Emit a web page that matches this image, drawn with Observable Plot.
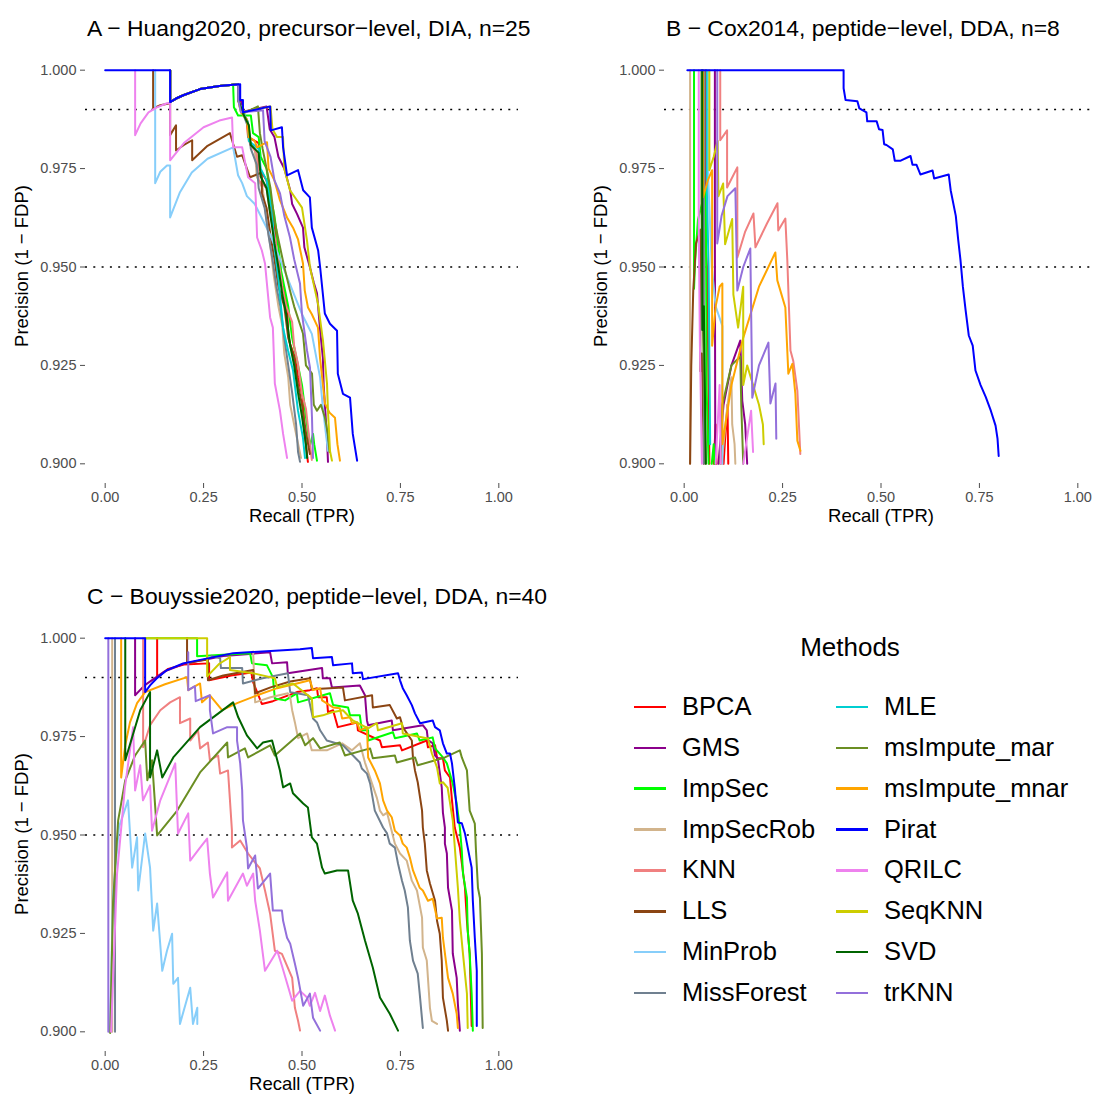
<!DOCTYPE html>
<html><head><meta charset="utf-8">
<script src="https://cdn.jsdelivr.net/npm/d3@7"></script>
<script src="https://cdn.jsdelivr.net/npm/@observablehq/plot@0.6"></script>
<style>
body{margin:0;background:#fff;font-family:"Liberation Sans",Arial,Helvetica,sans-serif}
#wrap{position:relative;width:1094px;height:1094px;overflow:hidden;background:#fff}
.abs{position:absolute;white-space:nowrap;line-height:1}
.ttl{font-size:22.9px;color:#000;transform:translateY(-50%)}
.xt{font-size:18.5px;color:#000;transform:translate(-50%,-50%)}
.yt{font-size:18.5px;color:#000;transform:translate(-50%,-50%) rotate(-90deg)}
.lg{font-size:25.5px;color:#000;transform:translateY(-50%)}
.key{position:absolute;height:2.5px;width:32px}
</style></head>
<body><div id="wrap"></div>
<script>
const methods = ["BPCA","GMS","ImpSec","ImpSecRob","KNN","LLS","MinProb","MissForest","MLE","msImpute_mar","msImpute_mnar","Pirat","QRILC","SeqKNN","SVD","trKNN"];
const colors = ["#FF0000","#8B008B","#00FF00","#D2B48C","#F08080","#8B4513","#87CEFA","#708090","#00CED1","#6B8E23","#FFA500","#0000FF","#EE82EE","#CDCD00","#006400","#9370DB"];
const xTicks = [0, 0.25, 0.5, 0.75, 1];
const yTicks = [0.9, 0.925, 0.95, 0.975, 1.0];
const refLines = [0.99, 0.95];
const titles = ["A \u2212 Huang2020, precursor\u2212level, DIA, n=25", "B \u2212 Cox2014, peptide\u2212level, DDA, n=8", "C \u2212 Bouyssie2020, peptide\u2212level, DDA, n=40"];
const xTitle = "Recall (TPR)";
const yTitle = "Precision (1 \u2212 FDP)";

// ---------- Panel A (recall, precision) ----------
const A_top = [[0.165,1.0],[0.165,0.9919],[0.18,0.9928],[0.2,0.9937],[0.241,0.9952],[0.29,0.996],[0.325,0.9963]];
const A_Pirat = [[0,1.0],[0.343,0.9964],[0.343,0.9924],[0.350,0.9924],[0.350,0.9893],[0.419,0.9908],[0.421,0.9847],[0.449,0.9855],[0.452,0.9804],[0.462,0.9733],[0.490,0.9746],[0.503,0.9695],[0.520,0.9677],[0.525,0.960],[0.541,0.9542],[0.546,0.950],[0.558,0.9382],[0.571,0.9356],[0.589,0.9338],[0.591,0.9229],[0.604,0.9178],[0.622,0.9168],[0.629,0.9076],[0.640,0.9008]];
const A_BPCA = [[0.338,0.9964],[0.338,0.9924],[0.348,0.9915],[0.35,0.989],[0.36,0.9872],[0.363,0.983],[0.39,0.9815],[0.392,0.975],[0.41,0.972],[0.42,0.966],[0.4315,0.9593],[0.435,0.953],[0.439,0.9499],[0.45,0.946],[0.462,0.9397],[0.465,0.933],[0.4695,0.9305],[0.482,0.927],[0.49,0.922],[0.5025,0.9168],[0.505,0.909],[0.515,0.9005]];
const A_GMS = [[0.338,0.9964],[0.338,0.9924],[0.345,0.9921],[0.345,0.9893],[0.41,0.9908],[0.418,0.985],[0.43,0.983],[0.44,0.978],[0.455,0.975],[0.47,0.9695],[0.475,0.966],[0.4873,0.9635],[0.5025,0.96],[0.506,0.955],[0.5203,0.9499],[0.53,0.946],[0.5381,0.9433],[0.546,0.934],[0.553,0.927],[0.555,0.92],[0.5635,0.9066],[0.566,0.9005]];
const A_ImpSec = [[0.327,0.9906],[0.3376,0.9885],[0.37,0.9885],[0.3756,0.984],[0.39,0.983],[0.395,0.978],[0.41,0.975],[0.42,0.968],[0.43,0.963],[0.44,0.955],[0.447,0.949],[0.455,0.945],[0.465,0.94],[0.475,0.932],[0.49,0.925],[0.5,0.92],[0.51,0.912],[0.52,0.9045],[0.528,0.9076],[0.531,0.905],[0.538,0.9008]];
const A_ImpSecRob = [[0.338,0.9964],[0.338,0.9924],[0.35,0.9893],[0.362,0.987],[0.365,0.982],[0.38,0.980],[0.385,0.973],[0.40,0.97],[0.41,0.962],[0.42,0.955],[0.428,0.948],[0.44,0.94],[0.45,0.935],[0.455,0.928],[0.465,0.922],[0.47,0.915],[0.48,0.91],[0.4975,0.9015]];
const A_KNN = [[0.338,0.9964],[0.338,0.9924],[0.35,0.9893],[0.365,0.986],[0.368,0.981],[0.385,0.979],[0.39,0.972],[0.41,0.97],[0.42,0.963],[0.43,0.958],[0.44,0.952],[0.45,0.945],[0.46,0.94],[0.475,0.936],[0.48,0.93],[0.4898,0.9254],[0.5,0.9178],[0.51,0.914],[0.52,0.905],[0.525,0.901]];
const A_LLS = [[0.1218,1.0],[0.1218,0.9903],[0.14,0.9911],[0.165,0.9916],[0.165,0.9835],[0.18,0.986],[0.18,0.9796],[0.2,0.981],[0.221,0.9822],[0.221,0.9771],[0.26,0.9808],[0.317,0.984],[0.335,0.978],[0.348,0.9784],[0.36,0.975],[0.368,0.9728],[0.398,0.974],[0.398,0.9687],[0.41,0.965],[0.42,0.958],[0.43,0.952],[0.44,0.945],[0.455,0.94],[0.465,0.932],[0.48,0.927],[0.49,0.92],[0.5,0.915],[0.51,0.908],[0.52,0.9025]];
const A_MinProb = [[0.127,1.0],[0.127,0.9713],[0.14,0.9742],[0.157,0.9758],[0.165,0.9758],[0.165,0.9626],[0.19,0.969],[0.22,0.974],[0.26,0.9775],[0.325,0.9804],[0.3376,0.9733],[0.348,0.9713],[0.36,0.968],[0.38,0.966],[0.40,0.962],[0.42,0.958],[0.44,0.953],[0.46,0.948],[0.48,0.943],[0.5,0.938],[0.515,0.935],[0.525,0.933],[0.546,0.9219],[0.553,0.9142],[0.566,0.9033]];
const A_MissForest = [[0.338,0.9964],[0.338,0.9924],[0.35,0.989],[0.365,0.985],[0.37,0.98],[0.385,0.976],[0.39,0.97],[0.405,0.965],[0.415,0.958],[0.425,0.952],[0.435,0.945],[0.445,0.94],[0.455,0.932],[0.465,0.925],[0.475,0.918],[0.485,0.91],[0.49,0.903],[0.495,0.9005]];
const A_MLE = [[0.338,0.9964],[0.338,0.9924],[0.35,0.9893],[0.362,0.987],[0.365,0.982],[0.39,0.98],[0.395,0.975],[0.41,0.972],[0.42,0.966],[0.4239,0.9644],[0.43,0.955],[0.44,0.947],[0.4518,0.9346],[0.4645,0.9288],[0.4772,0.9237],[0.4898,0.9135],[0.5025,0.9066],[0.5076,0.9015]];
const A_msImpute_mar = [[0.338,0.9964],[0.338,0.9924],[0.35,0.989],[0.388,0.9908],[0.393,0.984],[0.40,0.98],[0.41,0.975],[0.42,0.97],[0.43,0.962],[0.44,0.957],[0.455,0.95],[0.4695,0.944],[0.48,0.94],[0.5025,0.9331],[0.51,0.925],[0.5254,0.9229],[0.53,0.915],[0.5381,0.9135],[0.548,0.915],[0.5584,0.9117],[0.565,0.908],[0.57,0.903]];
const A_msImpute_mnar = [[0.338,0.9964],[0.338,0.9924],[0.345,0.9893],[0.36,0.9875],[0.365,0.983],[0.38,0.982],[0.3858,0.9804],[0.4112,0.9817],[0.415,0.975],[0.43,0.972],[0.4442,0.9669],[0.4619,0.9626],[0.4772,0.96],[0.49,0.957],[0.5025,0.9509],[0.507,0.944],[0.5152,0.9397],[0.525,0.938],[0.5406,0.9346],[0.5457,0.927],[0.5584,0.9153],[0.57,0.913],[0.5838,0.9117],[0.59,0.905],[0.5964,0.9008]];
const A_QRILC = [[0.0761,1.0],[0.0761,0.9835],[0.09,0.9865],[0.11,0.9893],[0.13,0.9905],[0.157,0.9916],[0.165,0.9916],[0.165,0.9771],[0.2,0.9815],[0.25,0.9855],[0.29,0.9872],[0.3223,0.988],[0.325,0.9804],[0.348,0.9804],[0.363,0.9728],[0.381,0.9713],[0.386,0.9575],[0.398,0.9542],[0.406,0.9509],[0.419,0.9372],[0.426,0.9346],[0.431,0.9204],[0.444,0.9135],[0.452,0.9076],[0.462,0.9015]];
const A_SeqKNN = [[0.338,0.9964],[0.338,0.9924],[0.345,0.9893],[0.42,0.9908],[0.425,0.985],[0.4365,0.983],[0.4518,0.983],[0.455,0.975],[0.4695,0.9695],[0.5,0.9651],[0.5127,0.9567],[0.5203,0.9499],[0.5406,0.9407],[0.5533,0.9313],[0.5635,0.9204],[0.566,0.9135],[0.5711,0.9033],[0.5761,0.9008]];
const A_SVD = [[0.338,0.9964],[0.338,0.9924],[0.35,0.989],[0.365,0.986],[0.37,0.981],[0.39,0.979],[0.395,0.973],[0.41,0.97],[0.42,0.963],[0.43,0.956],[0.44,0.95],[0.45,0.943],[0.46,0.938],[0.47,0.93],[0.48,0.925],[0.49,0.918],[0.5,0.912],[0.51,0.905],[0.513,0.9015]];
const A_trKNN = [[0.338,0.9964],[0.338,0.9924],[0.345,0.9893],[0.401,0.9898],[0.405,0.982],[0.42,0.978],[0.43,0.972],[0.4442,0.9687],[0.455,0.963],[0.4695,0.9575],[0.48,0.952],[0.4949,0.9458],[0.5,0.938],[0.5127,0.9288],[0.5203,0.9244],[0.5254,0.9117],[0.5279,0.9015]];

// ---------- Panel B ----------
const B_Pirat = [[0.008,1.0],[0.405,1.0],[0.405,0.9954],[0.41,0.9924],[0.44,0.9921],[0.445,0.9903],[0.463,0.9893],[0.465,0.987],[0.489,0.987],[0.495,0.985],[0.504,0.9848],[0.508,0.9812],[0.514,0.981],[0.53,0.9799],[0.535,0.977],[0.55,0.977],[0.575,0.9782],[0.58,0.976],[0.59,0.976],[0.6,0.9735],[0.631,0.9745],[0.635,0.9725],[0.672,0.9735],[0.677,0.9695],[0.69,0.963],[0.696,0.957],[0.702,0.9517],[0.708,0.945],[0.715,0.939],[0.723,0.9326],[0.733,0.930],[0.74,0.9237],[0.753,0.92],[0.766,0.917],[0.779,0.9135],[0.791,0.9097],[0.796,0.9064],[0.799,0.902]];
const B_BPCA = [[0.055,1.0],[0.055,0.955],[0.058,0.95],[0.062,0.92],[0.064,0.9],null,[0.075,0.9],[0.08,0.91],[0.082,0.9],null,[0.1,0.9],[0.105,0.908],[0.11,0.915],[0.112,0.9]];
const B_GMS = [[0.078,1.0],[0.078,0.957],[0.079,0.9],null,[0.087,0.9],[0.1,0.915],[0.12,0.925],[0.1425,0.9313],[0.1476,0.916],[0.155,0.91],[0.16,0.9]];
const B_ImpSec = [[0.025,1.0],[0.025,0.9445],[0.028,0.952],[0.035,0.962],[0.055,0.97],[0.057,0.919],[0.062,0.9],null,[0.07,0.9],[0.075,0.905],[0.077,0.9]];
const B_ImpSecRob = [[0.015,1.0],[0.015,0.9],null,[0.095,0.9],[0.11,0.915],[0.12,0.922],[0.122,0.91],[0.128,0.905],[0.13,0.9]];
const B_KNN = [[0.0916,1.0],[0.0916,0.9822],[0.109,0.9847],[0.109,0.9702],[0.135,0.9753],[0.135,0.9524],[0.155,0.959],[0.176,0.9636],[0.181,0.955],[0.21,0.961],[0.237,0.9662],[0.239,0.9593],[0.257,0.9623],[0.262,0.9517],[0.27,0.9288],[0.277,0.9262],[0.2875,0.9186],[0.295,0.9025]];
const B_LLS = [[0.015,0.9],[0.018,0.925],[0.023,0.944],[0.03,0.956],[0.041,0.9595],[0.041,0.9235],[0.045,0.928],[0.05,0.9]];
const B_MinProb = [[0.061,1.0],[0.061,0.973],[0.07,0.95],[0.08,0.94],[0.097,0.935],[0.097,0.9]];
const B_MissForest = [[0.05,1.0],[0.05,0.9]];
const B_MLE = [[0.057,1.0],[0.057,0.972],[0.062,0.95],[0.066,0.905]];
const B_msImpute_mar = [[0.044,1.0],[0.044,0.967],[0.046,0.94],[0.05,0.925],[0.055,0.9],null,[0.092,0.9],[0.097,0.915],[0.12,0.925],[0.1425,0.9273],[0.145,0.915],[0.15,0.9]];
const B_msImpute_mnar = [[0.048,1.0],[0.048,0.9677],[0.06,0.972],[0.071,0.9746],[0.071,0.93],[0.08,0.94],[0.09,0.945],[0.097,0.9458],[0.097,0.905],[0.12,0.92],[0.15,0.932],[0.19,0.945],[0.2316,0.9537],[0.2366,0.9466],[0.257,0.9397],[0.2646,0.9229],[0.2748,0.9254],[0.2824,0.9178],[0.2875,0.9059],[0.2952,0.9033]];
const B_QRILC = [[0.037,1.0],[0.037,0.96],[0.04,0.93],[0.045,0.9],null,[0.08,0.9],[0.09,0.92],[0.093,0.9],null,[0.15,0.9],[0.17,0.9135],[0.175,0.903]];
const B_SeqKNN = [[0.064,1.0],[0.064,0.9746],[0.075,0.978],[0.085,0.982],[0.087,0.968],[0.099,0.9712],[0.104,0.9558],[0.122,0.9622],[0.125,0.943],[0.137,0.9346],[0.15,0.945],[0.15,0.92],[0.16,0.925],[0.19,0.915],[0.2,0.91],[0.202,0.905]];
const B_SVD = [[0.046,1.0],[0.046,0.934],[0.05,0.94],[0.055,0.9]];
const B_trKNN = [[0.084,1.0],[0.084,0.956],[0.095,0.963],[0.11,0.968],[0.13,0.97],[0.135,0.944],[0.15,0.95],[0.168,0.9547],[0.173,0.9168],[0.19,0.925],[0.214,0.9308],[0.219,0.9153],[0.232,0.9204],[0.234,0.9064]];

// ---------- Panel C ----------
const C_Pirat = [[0,1.0],[0.1015,1.0],[0.1015,0.9863],[0.114,0.988],[0.13,0.9897],[0.157,0.9919],[0.198,0.9936],[0.325,0.9962],[0.495,0.9972],[0.525,0.9975],[0.528,0.9949],[0.576,0.9952],[0.579,0.9931],[0.627,0.9936],[0.629,0.9911],[0.652,0.9913],[0.655,0.9896],[0.744,0.9911],[0.749,0.9893],[0.756,0.9873],[0.766,0.9855],[0.779,0.983],[0.787,0.9809],[0.800,0.9784],[0.832,0.9791],[0.838,0.9774],[0.850,0.9766],[0.858,0.9733],[0.868,0.9707],[0.876,0.9707],[0.881,0.9682],[0.888,0.9621],[0.896,0.9532],[0.906,0.953],[0.914,0.9504],[0.921,0.9468],[0.931,0.9417],[0.934,0.9333],[0.939,0.9239],[0.944,0.9155],[0.944,0.9015]];
const C_BPCA = [[0.132,1.0],[0.132,0.990],[0.16,0.9922],[0.2,0.9933],[0.264,0.9936],[0.264,0.9893],[0.32,0.9905],[0.371,0.9913],[0.376,0.9888],[0.398,0.9833],[0.426,0.984],[0.487,0.9863],[0.520,0.9868],[0.538,0.9873],[0.541,0.985],[0.563,0.985],[0.566,0.9812],[0.579,0.9817],[0.591,0.9774],[0.640,0.9786],[0.642,0.9766],[0.698,0.974],[0.703,0.9723],[0.749,0.9728],[0.754,0.9715],[0.817,0.974],[0.820,0.9723],[0.838,0.9728],[0.843,0.9695],[0.858,0.9695],[0.863,0.9664],[0.876,0.9646],[0.881,0.9588],[0.888,0.9519],[0.901,0.9468],[0.914,0.9366],[0.919,0.9282],[0.926,0.9198],[0.931,0.9015]];
const C_GMS = [[0.076,1.0],[0.076,0.9855],[0.1,0.988],[0.15,0.9915],[0.2,0.9935],[0.3,0.9955],[0.419,0.9964],[0.424,0.9936],[0.462,0.9939],[0.464,0.9911],[0.551,0.9924],[0.553,0.9898],[0.571,0.9898],[0.576,0.9875],[0.647,0.988],[0.660,0.9855],[0.665,0.9791],[0.668,0.9779],[0.728,0.9791],[0.731,0.9766],[0.807,0.9779],[0.817,0.9766],[0.820,0.9741],[0.832,0.9733],[0.838,0.9702],[0.845,0.9695],[0.855,0.9621],[0.858,0.9557],[0.863,0.9519],[0.863,0.9478],[0.868,0.9453],[0.871,0.9366],[0.881,0.9308],[0.883,0.9199],[0.893,0.9137],[0.896,0.9071],[0.901,0.9003]];
const C_ImpSec = [[0.1015,1.0],[0.2335,1.0],[0.2335,0.9954],[0.3,0.9958],[0.368,0.9962],[0.373,0.9936],[0.411,0.9931],[0.426,0.9901],[0.431,0.9847],[0.457,0.9842],[0.487,0.986],[0.490,0.9837],[0.571,0.986],[0.579,0.983],[0.617,0.9824],[0.622,0.9804],[0.647,0.9804],[0.652,0.9766],[0.668,0.9766],[0.668,0.974],[0.731,0.9761],[0.736,0.9746],[0.792,0.9758],[0.799,0.974],[0.832,0.9748],[0.838,0.972],[0.858,0.9697],[0.868,0.9682],[0.883,0.9631],[0.893,0.958],[0.901,0.9519],[0.906,0.946],[0.909,0.9402],[0.919,0.9341],[0.921,0.9257],[0.926,0.9198],[0.931,0.9097],[0.934,0.9003]];
const C_ImpSecRob = [[0.0178,1.0],[0.0178,0.9],null,[0.376,0.9966],[0.376,0.9962],[0.381,0.9837],[0.42,0.985],[0.464,0.986],[0.470,0.985],[0.475,0.9817],[0.482,0.9786],[0.490,0.9746],[0.513,0.9758],[0.525,0.9715],[0.563,0.9715],[0.602,0.9733],[0.627,0.9715],[0.647,0.9733],[0.660,0.9684],[0.690,0.9595],[0.698,0.9562],[0.706,0.955],[0.716,0.9557],[0.736,0.9478],[0.749,0.9453],[0.766,0.9435],[0.779,0.9384],[0.792,0.9359],[0.805,0.929],[0.807,0.9214],[0.817,0.9181],[0.825,0.9061],[0.830,0.9028],[0.843,0.902]];
const C_KNN = [[0.0964,1.0],[0.0964,0.9723],[0.114,0.9779],[0.140,0.9817],[0.165,0.9837],[0.190,0.985],[0.190,0.9784],[0.216,0.9796],[0.216,0.974],[0.236,0.9766],[0.241,0.972],[0.261,0.9735],[0.266,0.969],[0.287,0.9702],[0.292,0.9656],[0.312,0.9664],[0.317,0.9588],[0.322,0.9511],[0.322,0.9468],[0.343,0.9486],[0.363,0.9453],[0.381,0.943],[0.393,0.9415],[0.406,0.9359],[0.419,0.93],[0.431,0.9206],[0.449,0.9198],[0.475,0.9137],[0.482,0.9061],[0.490,0.9028],[0.495,0.9003]];
const C_LLS = [[0.208,1.0],[0.208,0.9936],[0.235,0.9942],[0.261,0.9946],[0.261,0.9893],[0.3,0.9905],[0.376,0.9919],[0.381,0.986],[0.42,0.9875],[0.47,0.989],[0.52,0.9898],[0.525,0.987],[0.604,0.9875],[0.609,0.9842],[0.678,0.9855],[0.680,0.9824],[0.723,0.983],[0.741,0.9796],[0.749,0.9799],[0.756,0.9774],[0.779,0.974],[0.782,0.9695],[0.787,0.9664],[0.794,0.9634],[0.805,0.9562],[0.807,0.9519],[0.812,0.9478],[0.817,0.941],[0.825,0.9377],[0.838,0.9333],[0.843,0.9282],[0.850,0.9249],[0.855,0.9181],[0.858,0.9087],[0.868,0.9028],[0.871,0.9003]];
const C_MinProb = [[0.012,0.9],[0.02,0.935],[0.035,0.952],[0.058,0.9588],[0.0685,0.9417],[0.081,0.9494],[0.084,0.9359],[0.1015,0.9504],[0.114,0.9417],[0.122,0.9257],[0.132,0.9326],[0.145,0.9155],[0.157,0.9206],[0.170,0.9249],[0.173,0.9122],[0.185,0.9137],[0.190,0.902],[0.216,0.9112],[0.223,0.902],[0.234,0.9061],[0.234,0.902]];
const C_MissForest = [[0.025,1.0],[0.025,0.9],null,[0.27,0.9955],[0.292,0.9949],[0.294,0.9924],[0.348,0.9924],[0.350,0.9885],[0.4,0.9898],[0.464,0.9911],[0.470,0.9863],[0.515,0.9855],[0.528,0.9796],[0.538,0.9786],[0.546,0.9766],[0.563,0.974],[0.604,0.9728],[0.647,0.9684],[0.652,0.9669],[0.665,0.9656],[0.673,0.9631],[0.685,0.9562],[0.706,0.9519],[0.716,0.9504],[0.723,0.9478],[0.736,0.9468],[0.744,0.9427],[0.754,0.9384],[0.761,0.9359],[0.769,0.9316],[0.774,0.9232],[0.782,0.9181],[0.794,0.9148],[0.799,0.9097],[0.807,0.901]];
const C_msImpute_mar = [[0.0127,0.8997],[0.020,0.933],[0.033,0.9537],[0.051,0.9639],[0.076,0.9702],[0.1015,0.974],[0.107,0.9639],[0.119,0.969],[0.132,0.9499],[0.183,0.9562],[0.241,0.9659],[0.310,0.9735],[0.312,0.9697],[0.355,0.972],[0.363,0.9697],[0.419,0.9728],[0.431,0.9702],[0.495,0.9758],[0.508,0.9728],[0.528,0.9746],[0.546,0.972],[0.596,0.9735],[0.609,0.9702],[0.673,0.972],[0.680,0.9695],[0.736,0.9702],[0.741,0.9684],[0.787,0.9697],[0.794,0.9677],[0.863,0.9697],[0.901,0.9715],[0.906,0.9697],[0.919,0.9664],[0.926,0.9562],[0.939,0.9529],[0.942,0.946],[0.947,0.9366],[0.952,0.934],[0.957,0.9198],[0.959,0.901]];
const C_msImpute_mnar = [[0.0406,1.0],[0.0406,0.9646],[0.051,0.9728],[0.063,0.9786],[0.081,0.9835],[0.1015,0.9863],[0.152,0.9883],[0.208,0.9901],[0.211,0.9868],[0.241,0.9885],[0.246,0.9837],[0.266,0.9855],[0.297,0.9817],[0.335,0.9835],[0.386,0.9855],[0.437,0.9873],[0.487,0.9885],[0.520,0.9893],[0.528,0.9868],[0.546,0.9873],[0.551,0.9842],[0.579,0.9824],[0.596,0.9822],[0.602,0.9796],[0.622,0.9799],[0.627,0.9784],[0.640,0.9786],[0.647,0.9766],[0.665,0.9774],[0.668,0.9697],[0.685,0.9664],[0.698,0.9631],[0.706,0.9588],[0.716,0.9562],[0.728,0.9545],[0.736,0.9511],[0.749,0.9499],[0.756,0.9478],[0.766,0.9468],[0.774,0.9443],[0.782,0.941],[0.799,0.9366],[0.807,0.9359],[0.820,0.9333],[0.832,0.9338],[0.843,0.9288],[0.855,0.929],[0.858,0.9239],[0.871,0.9137],[0.883,0.9097],[0.893,0.9046],[0.896,0.901]];
const C_QRILC = [[0.015,0.9],[0.03,0.94],[0.05,0.962],[0.071,0.9774],[0.076,0.9613],[0.089,0.9677],[0.096,0.9588],[0.114,0.9626],[0.119,0.9511],[0.140,0.9588],[0.178,0.9682],[0.185,0.9504],[0.211,0.9555],[0.216,0.9435],[0.241,0.9468],[0.259,0.9491],[0.266,0.9402],[0.274,0.9341],[0.310,0.9405],[0.312,0.9333],[0.350,0.9402],[0.360,0.9371],[0.376,0.9402],[0.381,0.9333],[0.393,0.9257],[0.406,0.9155],[0.437,0.9206],[0.449,0.9168],[0.464,0.9117],[0.475,0.9079],[0.495,0.9104],[0.513,0.9087],[0.520,0.9066],[0.533,0.9099],[0.546,0.9053],[0.558,0.9092],[0.571,0.9041],[0.584,0.9003]];
const C_SeqKNN = [[0.1015,1.0],[0.259,1.0],[0.259,0.9903],[0.29,0.9935],[0.317,0.9952],[0.317,0.9919],[0.38,0.991],[0.431,0.9898],[0.437,0.9875],[0.477,0.9885],[0.525,0.9847],[0.528,0.9799],[0.553,0.9804],[0.576,0.9812],[0.604,0.9817],[0.629,0.9791],[0.668,0.9771],[0.690,0.9784],[0.693,0.9766],[0.754,0.9784],[0.756,0.9758],[0.82,0.9745],[0.830,0.9707],[0.843,0.9672],[0.850,0.9631],[0.858,0.9634],[0.87,0.962],[0.883,0.9537],[0.896,0.9366],[0.901,0.9282],[0.909,0.9198],[0.919,0.9097],[0.921,0.901]];
const C_SVD = [[0.051,1.0],[0.051,0.969],[0.089,0.9817],[0.114,0.9863],[0.114,0.9646],[0.132,0.9715],[0.145,0.9646],[0.173,0.9697],[0.241,0.9774],[0.325,0.9837],[0.338,0.9799],[0.360,0.9753],[0.386,0.972],[0.401,0.9735],[0.424,0.974],[0.444,0.9664],[0.452,0.9621],[0.470,0.9631],[0.477,0.9606],[0.503,0.958],[0.515,0.957],[0.525,0.9494],[0.538,0.9478],[0.551,0.9417],[0.558,0.9402],[0.589,0.941],[0.617,0.941],[0.629,0.9333],[0.642,0.93],[0.660,0.9232],[0.680,0.9163],[0.698,0.9087],[0.723,0.9046],[0.744,0.9003]];
const C_trKNN = [[0.008,1.0],[0.008,0.9],null,[0.211,0.9964],[0.211,0.9868],[0.228,0.9878],[0.23,0.984],[0.266,0.9855],[0.266,0.9817],[0.274,0.9758],[0.310,0.9774],[0.335,0.9774],[0.335,0.974],[0.343,0.9682],[0.348,0.9613],[0.350,0.9537],[0.360,0.9468],[0.363,0.9415],[0.381,0.9448],[0.388,0.9364],[0.419,0.9402],[0.426,0.9308],[0.449,0.9308],[0.452,0.9282],[0.462,0.9239],[0.470,0.9224],[0.482,0.9173],[0.490,0.9137],[0.503,0.9066],[0.520,0.9097],[0.528,0.9036],[0.546,0.9003]];

const panelA = {BPCA:[...A_top,...A_BPCA], GMS:[...A_top,...A_GMS], ImpSec:[...A_top,...A_ImpSec], ImpSecRob:[...A_top,...A_ImpSecRob], KNN:[...A_top,...A_KNN], LLS:A_LLS, MinProb:A_MinProb, MissForest:[...A_top,...A_MissForest], MLE:[...A_top,...A_MLE], msImpute_mar:[...A_top,...A_msImpute_mar], msImpute_mnar:[...A_top,...A_msImpute_mnar], Pirat:[A_Pirat[0],...A_top,...A_Pirat.slice(1)], QRILC:A_QRILC, SeqKNN:[...A_top,...A_SeqKNN], SVD:[...A_top,...A_SVD], trKNN:[...A_top,...A_trKNN]};
const panelB = {BPCA:B_BPCA, GMS:B_GMS, ImpSec:B_ImpSec, ImpSecRob:B_ImpSecRob, KNN:B_KNN, LLS:B_LLS, MinProb:B_MinProb, MissForest:B_MissForest, MLE:B_MLE, msImpute_mar:B_msImpute_mar, msImpute_mnar:B_msImpute_mnar, Pirat:B_Pirat, QRILC:B_QRILC, SeqKNN:B_SeqKNN, SVD:B_SVD, trKNN:B_trKNN};
const panelC = {BPCA:C_BPCA, GMS:C_GMS, ImpSec:C_ImpSec, ImpSecRob:C_ImpSecRob, KNN:C_KNN, LLS:C_LLS, MinProb:C_MinProb, MissForest:C_MissForest, msImpute_mar:C_msImpute_mar, msImpute_mnar:C_msImpute_mnar, Pirat:C_Pirat, QRILC:C_QRILC, SeqKNN:C_SeqKNN, SVD:C_SVD, trKNN:C_trKNN};

const drawOrder = methods.filter(m => m !== "Pirat").concat(["Pirat"]);
const wrap = document.getElementById("wrap");

function addText(cls, txt, left, top) {
  const d = document.createElement("div");
  d.className = "abs " + cls;
  d.textContent = txt;
  d.style.left = left + "px";
  d.style.top = top + "px";
  wrap.appendChild(d);
  return d;
}

function panel(series, left, top, title) {
  const rows = [];
  for (const m of drawOrder) {
    const pts = series[m];
    if (!pts) continue;
    for (const p of pts) rows.push({method: m, r: p ? p[0] : NaN, p: p ? p[1] : NaN});
  }
  const chart = Plot.plot({
    width: 540, height: 493,
    marginLeft: 85, marginRight: 22, marginTop: 10, marginBottom: 50,
    x: {domain: [-0.05, 1.05], ticks: xTicks, tickFormat: d3.format(".2f"), tickSize: 5, tickPadding: 3, label: null},
    y: {domain: [0.895, 1.005], ticks: yTicks, tickFormat: d3.format(".3f"), tickSize: 5, tickPadding: 4, label: null},
    color: {domain: methods, range: colors},
    style: {fontFamily: '"Liberation Sans", Arial, sans-serif', fontSize: "14.5px", color: "#4D4D4D", background: "transparent", overflow: "visible"},
    marks: [
      Plot.ruleY(refLines, {stroke: "#000", strokeWidth: 1.6, strokeDasharray: "2,6.3"}),
      Plot.line(rows, {x: "r", y: "p", z: "method", stroke: "method", strokeWidth: 2, clip: true})
    ]
  });
  chart.style.position = "absolute";
  chart.style.left = left + "px";
  chart.style.top = top + "px";
  wrap.appendChild(chart);
  addText("ttl", title, left + 87, top - 12);
  addText("xt", xTitle, left + 302, top + 476);
  addText("yt", yTitle, left + 22, top + 226);
}

panel(panelA, 0, 40, titles[0]);
panel(panelB, 579, 40, titles[1]);
panel(panelC, 0, 608, titles[2]);

// legend
const lt = addText("lg", "Methods", 850, 647);
lt.style.transform = "translate(-50%,-50%)";
lt.style.fontSize = "26px";
methods.forEach((m, i) => {
  const col = i < 8 ? 0 : 1;
  const row = i % 8;
  const y = 707 + row * 40.85;
  const kx = col === 0 ? 634 : 836;
  const k = document.createElement("div");
  k.className = "key";
  k.style.left = kx + "px";
  k.style.top = (y - 1.25) + "px";
  k.style.background = colors[i];
  wrap.appendChild(k);
  addText("lg", m, kx + 48, y);
});
</script>
</body></html>
